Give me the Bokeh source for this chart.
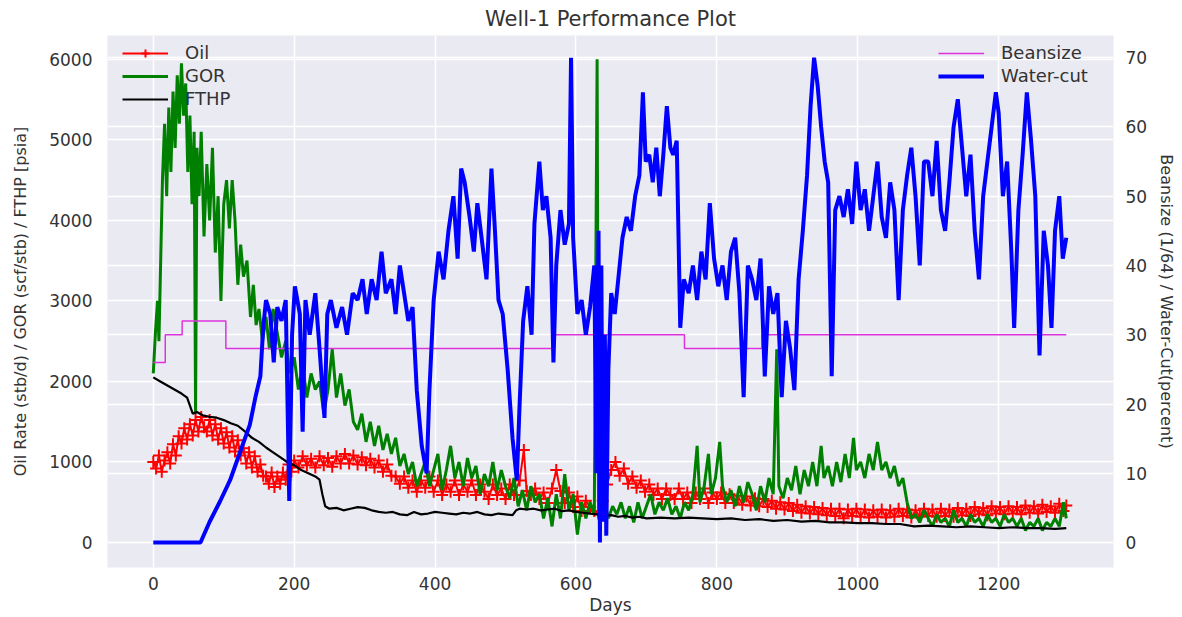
from bokeh.plotting import figure
from bokeh.models import Range1d, LinearAxis, FixedTicker, Grid, Legend, LegendItem
from bokeh.embed import file_html
from bokeh.resources import INLINE

TITLE = "Well-1 Performance Plot"
X_LABEL = "Days"
LEFT_LABEL = "Oil Rate (stb/d) / GOR (scf/stb) / FTHP [psia]"
RIGHT_LABEL = "Beansize (1/64) / Water-Cut(percent)"

X_TICKS = [0, 200, 400, 600, 800, 1000, 1200]
LEFT_TICKS = [0, 1000, 2000, 3000, 4000, 5000, 6000]
RIGHT_TICKS = [0, 10, 20, 30, 40, 50, 60, 70]

oil_days = [
    0, 4, 8, 12, 16, 20, 24, 28, 32, 36,
    40, 44, 48, 52, 56, 60, 64, 68, 72, 76,
    80, 84, 88, 92, 96, 100, 104, 108, 112, 116,
    120, 124, 128, 132, 136, 140, 144, 148, 152, 156,
    160, 164, 168, 172, 176, 180, 184, 188, 192, 196,
    200, 206, 212, 218, 224, 230, 236, 242, 248, 254,
    260, 266, 272, 278, 284, 290, 296, 302, 308, 314,
    320, 326, 332, 338, 344, 350, 356, 362, 368, 374,
    380, 386, 392, 398, 404, 410, 416, 422, 428, 434,
    440, 446, 452, 458, 464, 470, 476, 482, 488, 494,
    500, 506, 512, 520, 526, 530, 536, 542, 548, 554,
    560, 566, 572, 578, 584, 590, 596, 602, 608, 614,
    620, 626, 632, 638, 644, 650, 656, 662, 668, 674,
    680, 686, 692, 698, 704, 710, 716, 722, 728, 734,
    740, 746, 752, 758, 764, 770, 776, 782, 788, 794,
    800, 806, 812, 818, 824, 830, 836, 842, 848, 854,
    860, 866, 872, 878, 884, 890, 896, 902, 908, 914,
    920, 926, 932, 938, 944, 950, 956, 962, 968, 974,
    980, 986, 992, 998, 1004, 1010, 1016, 1022, 1028, 1034,
    1040, 1046, 1052, 1058, 1064, 1070, 1076, 1082, 1088, 1094,
    1100, 1106, 1112, 1118, 1124, 1130, 1136, 1142, 1148, 1154,
    1160, 1166, 1172, 1178, 1184, 1190, 1196, 1202, 1208, 1214,
    1220, 1226, 1232, 1238, 1244, 1250, 1256, 1262, 1268, 1274,
    1280, 1286, 1292, 1296,
]
oil_rate = [
    1000, 920, 1080, 880, 1020, 1120, 980, 1220, 1080, 1320,
    1230, 1420, 1280, 1470, 1330, 1520, 1380, 1560, 1430, 1380,
    1520, 1330, 1470, 1280, 1420, 1230, 1370, 1180, 1320, 1130,
    1270, 1080, 1170, 980, 1120, 930, 1070, 880, 970, 830,
    820, 730, 870, 690, 820, 730, 870, 780, 970, 880,
    1020, 930, 1070, 960, 1040, 930, 1070, 960, 1050, 940,
    1070, 980, 1100, 980, 1080, 970, 1060, 960, 1040, 930,
    1020, 880, 970, 830, 820, 730, 820, 680, 770, 630,
    770, 680, 820, 630, 770, 590, 720, 630, 770, 590,
    720, 630, 770, 590, 720, 630, 540, 720, 590, 670,
    540, 720, 590, 770, 1150, 640, 590, 670, 540, 620,
    490, 670, 900, 640, 490, 620, 440, 570, 390, 520,
    440, 390, 350, 520, 720, 900, 1000, 830, 920, 730,
    820, 680, 770, 630, 720, 590, 670, 540, 670, 590,
    540, 670, 540, 620, 490, 620, 540, 670, 490, 620,
    540, 620, 490, 600, 490, 580, 470, 570, 460, 550,
    450, 540, 440, 520, 420, 500, 410, 490, 390, 470,
    370, 450, 360, 440, 350, 430, 340, 420, 330, 420,
    300, 410, 330, 420, 320, 410, 310, 400, 320, 410,
    310, 400, 320, 420, 330, 410, 310, 400, 320, 420,
    330, 410, 320, 420, 330, 410, 320, 430, 340, 420,
    330, 440, 350, 430, 340, 450, 360, 440, 350, 450,
    360, 440, 350, 460, 370, 450, 360, 470, 380, 450,
    370, 480, 390, 460,
]

gor_days = [
    0, 3, 6, 8, 10, 13, 16, 19, 22, 25,
    28, 31, 34, 37, 40, 43, 46, 49, 52, 55,
    58, 60, 62, 65, 68, 72, 76, 80, 84, 88,
    92, 96, 100, 104, 108, 112, 116, 120, 124, 128,
    133, 138, 142, 146, 150, 155, 160, 165, 170, 176,
    182, 188, 194, 200, 206, 212, 218, 224, 230, 236,
    242, 248, 254, 260, 266, 272, 278, 284, 290, 296,
    302, 308, 314, 320, 326, 332, 338, 344, 350, 356,
    362, 368, 374, 380, 386, 392, 398, 404, 410, 416,
    422, 428, 434, 440, 446, 452, 458, 464, 470, 476,
    482, 488, 494, 500, 506, 512, 518, 524, 530, 536,
    542, 548, 554, 560, 566, 572, 578, 584, 590, 596,
    602, 608, 614, 620, 626, 630, 632, 636, 640, 646,
    652, 658, 664, 670, 676, 682, 688, 694, 700, 706,
    712, 718, 724, 730, 736, 742, 748, 754, 760, 766,
    772, 776, 782, 788, 792, 798, 804, 808, 814, 820,
    826, 832, 838, 844, 850, 856, 862, 868, 874, 880,
    885, 888, 894, 900, 906, 912, 918, 924, 930, 936,
    942, 948, 952, 958, 964, 970, 976, 982, 988, 994,
    998, 1004, 1010, 1016, 1022, 1028, 1034, 1040, 1046, 1052,
    1058, 1064, 1070, 1076, 1082, 1088, 1094, 1100, 1106, 1112,
    1118, 1124, 1130, 1136, 1142, 1148, 1154, 1160, 1166, 1172,
    1178, 1184, 1190, 1196, 1202, 1208, 1214, 1220, 1226, 1232,
    1238, 1244, 1250, 1256, 1262, 1268, 1274, 1280, 1286, 1292,
    1296,
]
gor = [
    2100, 2600, 3000, 2500, 3300, 4500, 5200, 4300, 5400, 4600,
    5600, 4900, 5800, 5200, 5950, 5300, 5700, 4600, 5300, 4200,
    5100, 1600, 4900, 4300, 5100, 3800, 4700, 4000, 4900, 3600,
    4300, 3000, 4200, 4500, 3900, 4500, 4000, 3200, 3700, 3300,
    3500, 2800, 3200, 2700, 2900, 2500, 2800, 2400, 2900, 2600,
    2300, 2500, 2100, 2300, 1900, 2200, 1800, 2100, 1900, 2000,
    1600, 1900, 2400, 1800, 2100, 1700, 1900, 1500, 1400, 1600,
    1250, 1500, 1200, 1450, 1150, 1350, 1100, 1300, 950, 1100,
    850, 1000, 700, 850, 1000, 700, 900, 1100, 650, 900,
    1200, 800, 1000, 700, 1050, 800, 950, 600, 850, 700,
    1000, 650, 900, 700, 550, 800, 450, 650, 400, 700,
    500, 600, 300, 550, 200, 600, 300, 850, 400, 600,
    100, 500, 300, 500, 350, 6000, 300, 700, 500, 300,
    450, 350, 500, 300, 450, 250, 500, 300, 450, 600,
    350, 500, 400, 550, 350, 450, 300, 500, 400, 600,
    1200, 500, 700, 1100, 600, 800, 1250, 700, 500, 650,
    450, 700, 500, 750, 600, 400, 700, 500, 800, 600,
    2400, 700, 550, 800, 650, 950, 600, 900, 700, 1000,
    700, 1200, 800, 950, 700, 1000, 750, 1100, 800, 1300,
    900, 1000, 800, 1100, 900, 1250, 900, 1000, 800, 950,
    700, 800, 500, 300, 350, 250, 400, 300, 200, 350,
    250, 300, 200, 400, 250, 300, 200, 350, 250, 300,
    200, 350, 250, 300, 200, 350, 250, 300, 200, 300,
    150, 250, 200, 300, 150, 250, 200, 300, 200, 500,
    300,
]

fthp_days = [
    0, 10, 20, 30, 40, 48, 52, 56, 62, 70,
    80, 90, 100, 110, 120, 130, 140, 150, 160, 170,
    180, 190, 200, 210, 220, 230, 236, 240, 244, 250,
    260, 270, 280, 290, 300, 310, 320, 330, 340, 350,
    360, 370, 380, 390, 400, 410, 420, 430, 440, 450,
    460, 470, 480, 490, 500, 510, 515, 520, 530, 540,
    550, 560, 570, 580, 590, 600, 610, 620, 630, 640,
    650, 660, 670, 680, 690, 700, 720, 740, 760, 780,
    800, 820, 840, 860, 880, 900, 920, 940, 960, 980,
    1000, 1020, 1040, 1060, 1080, 1100, 1120, 1140, 1160, 1180,
    1200, 1220, 1240, 1260, 1280, 1296,
]
fthp = [
    2050, 2000, 1950, 1900, 1850, 1800, 1700, 1600, 1620, 1580,
    1560, 1550, 1520, 1480, 1450, 1380, 1300, 1250, 1180, 1120,
    1060, 1000, 960, 900, 860, 820, 780, 600, 450, 420,
    430, 400, 420, 440, 430, 400, 380, 370, 380, 350,
    340, 380, 350, 360, 380, 370, 360, 350, 370, 360,
    380, 350, 340, 360, 350, 340, 400, 420, 410, 420,
    400, 410, 420, 390, 400, 380, 370, 360, 350, 330,
    340, 320, 330, 310, 320, 300, 310, 300, 310, 300,
    290, 300, 280, 290, 270, 280, 260, 270, 250, 250,
    240, 240, 230, 230, 200, 210, 200, 190, 200, 190,
    180, 190, 180, 180, 170, 180,
]

bean_days = [0, 17, 41, 103, 567, 754, 864, 1296]
beansize = [26, 30, 32, 28, 30, 28, 30, 30]

wc_days = [
    0, 67, 80, 95, 109, 123, 137, 145, 152, 156,
    160, 166, 171, 176, 182, 188, 193, 197, 201, 208,
    212, 216, 222, 230, 236, 243, 247, 252, 260, 268,
    275, 283, 290, 297, 303, 310, 317, 324, 330, 338,
    344, 350, 356, 362, 368, 374, 381, 388, 392, 398,
    405, 412, 419, 426, 432, 437, 442, 449, 455, 460,
    466, 473, 480, 485, 490, 496, 503, 510, 516, 520,
    525, 531, 537, 541, 548, 553, 558, 564, 568, 572,
    578, 584, 590, 593, 596, 602, 608, 614, 620, 626,
    629, 632, 634, 636, 638, 641, 643, 646, 650, 655,
    660, 666, 672, 678, 684, 690, 695, 699, 704, 709,
    714, 719, 724, 729, 734, 738, 743, 748, 753, 760,
    766, 772, 778, 784, 790, 796, 802, 808, 814, 820,
    826, 832, 838, 844, 850, 856, 862, 868, 874, 880,
    886, 892, 898, 904, 910, 916, 922, 928, 933, 938,
    943, 948, 953, 958, 963, 968, 974, 980, 986, 992,
    998, 1004, 1010, 1016, 1022, 1028, 1034, 1040, 1046, 1052,
    1058, 1064, 1070, 1076, 1082, 1088, 1094, 1100, 1106, 1112,
    1118, 1124, 1130, 1136, 1142, 1148, 1154, 1160, 1166, 1172,
    1178, 1184, 1190, 1196, 1200, 1206, 1212, 1218, 1222, 1228,
    1234, 1240, 1246, 1252, 1258, 1264, 1270, 1275, 1280, 1286,
    1291, 1296,
]
water_cut = [
    0, 0, 3, 6, 9, 13, 17, 21, 24, 31,
    35, 33, 26, 34, 32, 35, 6, 30, 37, 33,
    16, 35, 30, 36, 28, 18, 33, 35, 31, 34,
    30, 36, 35, 38, 33, 38, 35, 42, 36, 38,
    33, 40, 36, 32, 34, 22, 14, 10, 22, 35,
    42, 38, 45, 50, 41, 54, 52, 47, 42, 49,
    44, 38, 54, 45, 35, 33, 25, 15, 9, 20,
    32, 37, 30, 46, 55, 48, 50, 44, 26, 40,
    48, 43, 46, 70, 44, 33, 35, 30, 34, 40,
    10, 45, 0, 40, 3, 30, 1, 25, 36, 33,
    38, 44, 47, 45, 50, 53, 65, 55, 56, 52,
    57, 50, 56, 63, 57, 56, 58, 31, 38, 36,
    40, 35, 42, 38, 49, 41, 37, 40, 35, 42,
    44, 36, 21, 40, 38, 35, 41, 24, 37, 33,
    36, 21, 32, 28, 22, 38, 45, 53, 63, 70,
    66, 60, 55, 52, 24, 48, 50, 47, 51, 46,
    55, 48, 51, 45, 50, 55, 47, 44, 52, 48,
    35, 48, 53, 57, 50, 40, 55, 55, 50, 58,
    48, 45, 52, 60, 64, 57, 50, 56, 45, 38,
    50, 55, 60, 65, 62, 50, 55, 42, 31, 48,
    56, 65, 58, 50, 27, 45, 40, 31, 45, 50,
    41, 44,
]

FONT = "DejaVu Sans"
TXT = "#333333"

p = figure(width=1182, height=617, output_backend="svg", toolbar_location=None,
           x_range=Range1d(-65, 1363), y_range=Range1d(-310, 6295),
           min_border_left=107, min_border_right=69, min_border_top=35, min_border_bottom=50,
           background_fill_color="#EAEAF2", border_fill_color="white",
           outline_line_color=None)
p.extra_y_ranges = {"right": Range1d(-3.6, 73.2)}

p.title.text = TITLE
p.title.align = "center"
p.title.text_font = FONT
p.title.text_font_size = "21px"
p.title.text_font_style = "normal"
p.title.text_color = TXT
p.title.standoff = 9


def style_axis(ax, label, standoff, lab_standoff, lab_size="16px"):
    ax.axis_label = label
    ax.axis_label_text_font = FONT
    ax.axis_label_text_font_size = lab_size
    ax.axis_label_text_font_style = "normal"
    ax.axis_label_text_color = TXT
    ax.axis_label_standoff = lab_standoff
    ax.major_label_text_font = FONT
    ax.major_label_text_font_size = "17px"
    ax.major_label_text_color = TXT
    ax.major_label_standoff = standoff
    ax.axis_line_color = None
    ax.major_tick_line_color = None
    ax.minor_tick_line_color = None
    ax.major_tick_out = 0
    ax.major_tick_in = 0


p.xaxis.ticker = FixedTicker(ticks=X_TICKS)
p.yaxis.ticker = FixedTicker(ticks=LEFT_TICKS)
style_axis(p.xaxis[0], X_LABEL, 9, 2, "17px")
style_axis(p.yaxis[0], LEFT_LABEL, 15, 16)

right_axis = LinearAxis(y_range_name="right", ticker=FixedTicker(ticks=RIGHT_TICKS))
style_axis(right_axis, RIGHT_LABEL, 12, 7)
p.add_layout(right_axis, "right")

p.xgrid.ticker = FixedTicker(ticks=X_TICKS)
p.ygrid.ticker = FixedTicker(ticks=LEFT_TICKS)
for g in (p.xgrid[0], p.ygrid[0]):
    g.grid_line_color = "white"
    g.grid_line_width = 1.5
right_grid = Grid(dimension=1, ticker=FixedTicker(ticks=RIGHT_TICKS), y_range_name="right",
                  grid_line_color="white", grid_line_width=1.5)
p.add_layout(right_grid)

r_oil = p.line(oil_days, oil_rate, line_color="red", line_width=2)
r_oil_m = p.scatter(oil_days, oil_rate, marker="cross", size=12, line_color="red", line_width=2)
r_gor = p.line(gor_days, gor, line_color="green", line_width=3)
r_fthp = p.line(fthp_days, fthp, line_color="black", line_width=2.2)
r_bean = p.step(bean_days, beansize, mode="after", y_range_name="right",
                line_color="#dd33dd", line_width=1.5)
r_wc = p.line(wc_days, water_cut, y_range_name="right", line_color="blue", line_width=4)


def make_legend(items, loc):
    return Legend(items=items, location=loc, orientation="vertical",
                  background_fill_alpha=0, border_line_alpha=0,
                  label_text_font=FONT, label_text_font_size="18px", label_text_color=TXT,
                  glyph_width=46, glyph_height=20, label_height=20, spacing=2,
                  label_standoff=17, padding=8, margin=0)


left_legend = make_legend([
    LegendItem(label="Oil", renderers=[r_oil, r_oil_m]),
    LegendItem(label="GOR", renderers=[r_gor]),
    LegendItem(label="FTHP", renderers=[r_fthp]),
], (7, 450))
right_legend = make_legend([
    LegendItem(label="Beansize", renderers=[r_bean]),
    LegendItem(label="Water-cut", renderers=[r_wc]),
], (823, 473))
p.add_layout(left_legend)
p.add_layout(right_legend)

open("out.html", "w").write(file_html(p, INLINE))
